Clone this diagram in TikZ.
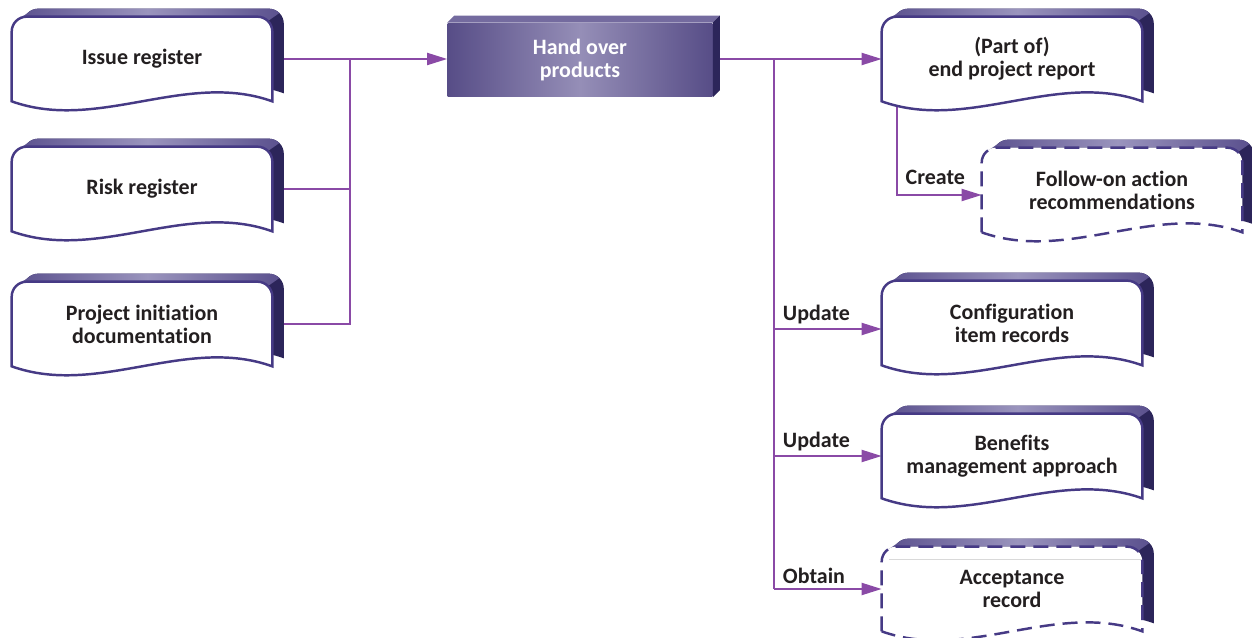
\documentclass[tikz,border=0pt]{standalone}
\usepackage{fontspec}
\setmainfont{Carlito}[Ligatures=CommonOff]
\usepackage{xcolor}
\usetikzlibrary{arrows.meta, positioning, calc}

\definecolor{docline}{HTML}{463A85}
\definecolor{docside}{HTML}{2C255A}
\definecolor{bandedge}{HTML}{5B518E}
\definecolor{bandmid}{HTML}{9A94BD}
\definecolor{procedge}{HTML}{574D87}
\definecolor{procmid}{HTML}{958EB7}
\definecolor{linkcol}{HTML}{8A4AA6}
\definecolor{doctext}{HTML}{231F20}

\pgfdeclarelayer{back}
\pgfdeclarelayer{shapes}
\pgfsetlayers{back,shapes,main}

% outline of a document: rounded top, wavy bottom (#1 node, #2/#3 shift)
\newcommand{\docpath}[3]{%
  ([xshift=#2,yshift=#3]#1.south west)
  -- ([xshift=#2,yshift=#3-0.3cm]#1.north west)
  arc[start angle=180, end angle=90, radius=0.3cm]
  -- ([xshift=#2-0.3cm,yshift=#3]#1.north east)
  arc[start angle=90, end angle=0, radius=0.3cm]
  -- ([xshift=#2,yshift=#3]#1.south east)
  .. controls ([xshift=#2-1.73cm,yshift=#3+0.62cm]#1.south east)
  and ([xshift=#2+1.73cm,yshift=#3-0.62cm]#1.south west)
  .. ([xshift=#2,yshift=#3]#1.south west) -- cycle}

% document with its 3D edge
\newcommand{\docshape}[2][solid]{%
  \fill[docside] \docpath{#2}{0.23cm}{0.16cm};
  \path[bandshade] ([xshift=0.088cm,yshift=-0.088cm]#2.north west) -- ++(0.23cm,0.16cm)
    arc[start angle=135, end angle=90, radius=0.3cm]
    -- ([xshift=-0.07cm,yshift=0.16cm]#2.north east)
    arc[start angle=90, end angle=45, radius=0.3cm]
    -- ++(-0.23cm,-0.16cm)
    arc[start angle=45, end angle=90, radius=0.3cm]
    -- ([xshift=0.3cm]#2.north west)
    arc[start angle=90, end angle=135, radius=0.3cm] -- cycle;
  \draw[docline, #1, line width=1.4pt, fill=white] \docpath{#2}{0cm}{0cm};
}

\begin{document}
\begin{tikzpicture}[x=0.02cm, y=-0.02cm,
    doc/.style={minimum width=5.2cm, minimum height=1.68cm, inner sep=0pt,
      align=center, text=doctext, font=\bfseries\fontsize{12.5pt}{13pt}\selectfont},
    proc/.style={minimum width=5.3cm, minimum height=1.48cm, inner sep=0pt,
      align=center, text=white, left color=procedge, right color=procedge,
      middle color=procmid, font=\bfseries\fontsize{12.5pt}{13pt}\selectfont},
    bandshade/.style={left color=bandedge, right color=bandedge, middle color=bandmid},
    link/.style={draw=linkcol, line width=1.1pt},
    arrowlink/.style={link, -{Triangle[length=0.4cm, width=0.24cm]}},
    dashdoc/.style={dashed, dash pattern=on 0.3cm off 0.16cm},
    lbl/.style={anchor=south west, inner xsep=0.16cm, inner ysep=0.08cm,
      text=doctext, font=\bfseries\fontsize{12.5pt}{13pt}\selectfont}]

  \useasboundingbox (0,0) rectangle (1252,638);

  % Inputs
  \node[doc] (issue) at (142,59) {Issue register};
  \node[doc] (risk) at (142,189) {Risk register};
  \node[doc] (pid) at (142,324) {Project initiation\\documentation};

  % Activity
  \node[proc] (handover) at (580,60) {Hand over\\products};
  \fill[bandedge!85!white] (handover.north west) -- ++(0.14cm,0.14cm)
    -- ([xshift=0.14cm,yshift=0.14cm]handover.north east) -- (handover.north east) -- cycle;
  \fill[docside] (handover.north east) -- ++(0.14cm,0.14cm)
    -- ([xshift=0.14cm,yshift=0.14cm]handover.south east) -- (handover.south east) -- cycle;

  % Outputs
  \node[doc] (endrep) at (1012,59) {(Part of)\\end project report};
  \node[doc] (follow) at (1112,190) {Follow-on action\\recommendations};
  \node[doc] (config) at (1012,323) {Configuration\\item records};
  \node[doc] (benefits) at (1012,456) {Benefits\\management approach};
  \node[doc] (accept) at (1012,589) {Acceptance\\record};

  % Document outlines
  \begin{pgfonlayer}{shapes}
    \docshape{issue}
    \docshape{risk}
    \docshape{pid}
    \docshape{endrep}
    \docshape[dashdoc]{follow}
    \docshape{config}
    \docshape{benefits}
    \docshape[dashdoc]{accept}
    \draw[line width=0.6pt, draw=black!15] ([xshift=0.15cm,yshift=-0.26cm]accept.north west)
      -- ([yshift=-0.26cm]accept.north east);
  \end{pgfonlayer}

  % Connectors
  \coordinate (ljoin) at (350,0);
  \coordinate (rjoin) at (774,0);
  \coordinate (createto) at ([yshift=-0.1cm]follow.west);
  \coordinate (updateto) at ([yshift=-0.12cm]config.west);
  \begin{pgfonlayer}{back}
    \draw[link] (issue.east) -- (issue.east -| ljoin) |- (pid.east);
    \draw[link] (risk.east) -- (risk.east -| ljoin);
    \draw[arrowlink] (issue.east -| ljoin) -- (issue.east -| handover.west);
    \draw[arrowlink] (handover.east |- endrep.west) -- (endrep.west);
    \draw[link] (endrep.west -| rjoin) -- (accept.west -| rjoin);
    \draw[arrowlink] ([xshift=0.3cm]endrep.south west) |- node[lbl, pos=0.5, yshift=0.1cm] {Create} (createto);
    \draw[arrowlink] (updateto -| rjoin) -- node[lbl, pos=0] {Update} (updateto);
    \draw[arrowlink] (benefits.west -| rjoin) -- node[lbl, pos=0] {Update} (benefits.west);
    \draw[arrowlink] (accept.west -| rjoin) -- node[lbl, pos=0] {Obtain} (accept.west);
  \end{pgfonlayer}

\end{tikzpicture}
\end{document}
